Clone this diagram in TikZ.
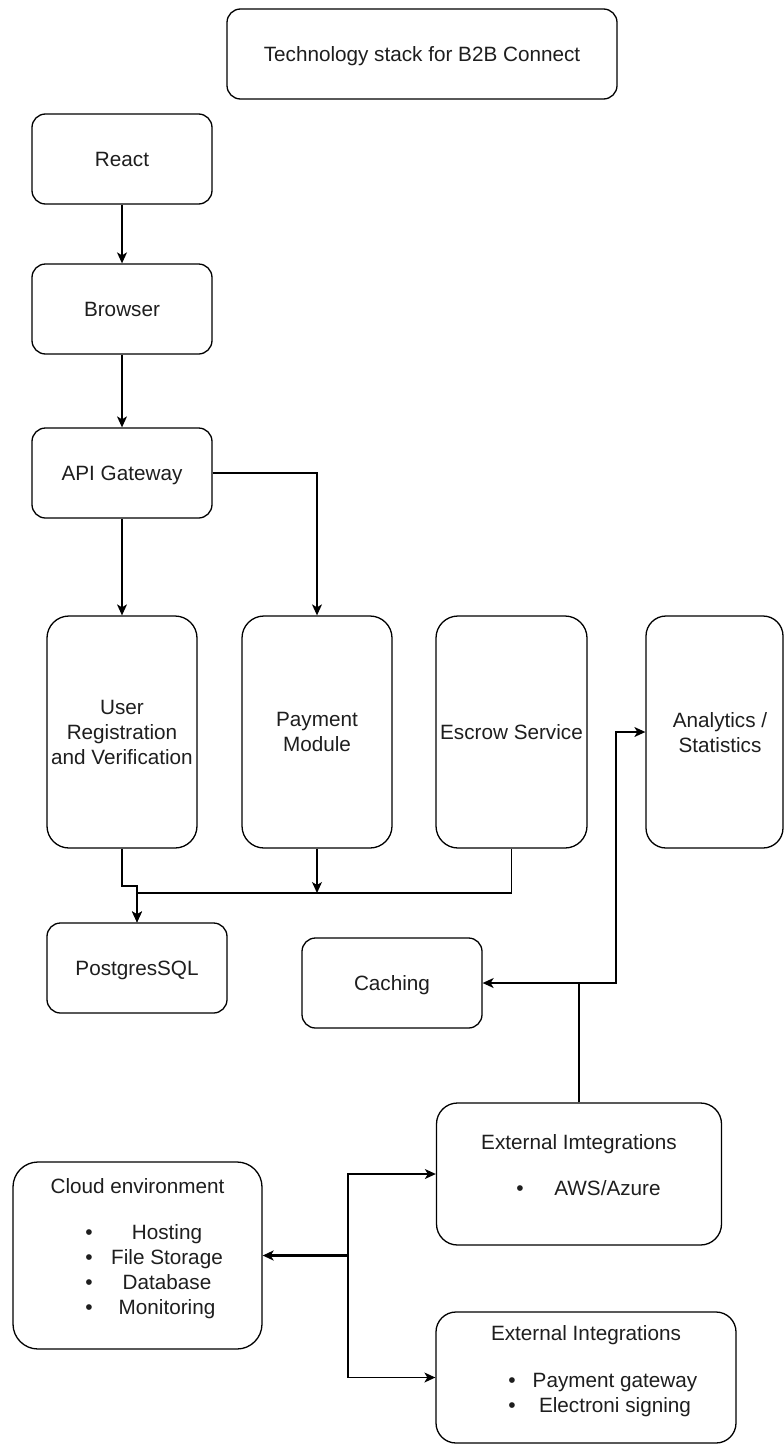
\documentclass[tikz,border=0pt]{standalone}
\usepackage{fontspec}
\setmainfont{Liberation Sans}
\usetikzlibrary{arrows.meta}
\definecolor{ink}{RGB}{30,30,30}
\newcommand\dfont{\fontsize{20.7}{25}\selectfont}
\newcommand\bfnt{\fontsize{21}{21}\selectfont}
\begin{document}
\begin{tikzpicture}[x=1pt,y=-1pt,
  box/.style={draw=black, line width=1.3pt, fill=white, rounded corners=#1, inner sep=0pt, align=center, font=\dfont, text=ink},
  box/.default=13.5pt,
  one/.style={text height=18.6pt, text depth=4.1pt},
  conn/.style={draw=black, line width=1.3pt, -{Stealth[length=11pt,width=10pt,inset=3pt]}},
  txt/.style={inner sep=0pt, font=\dfont, anchor=base, text=ink},
  bul/.style={inner sep=0pt, font=\bfnt, anchor=base, text=ink}]
\useasboundingbox (0,0) rectangle (784,1445);
% boxes
\node[box, one, minimum width=390pt, minimum height=90pt] (title) at (422,54) {Technology stack for B2B Connect};
\node[box, one, minimum width=180pt, minimum height=90pt] (react) at (122,159) {React};
\node[box, one, minimum width=180pt, minimum height=90pt] (browser) at (122,309) {Browser};
\node[box, one, minimum width=180pt, minimum height=90pt] (api) at (122,473) {API Gateway};
\node[box=22pt, minimum width=150pt, minimum height=232pt] (user) at (122,732) {User\\Registration\\and Verification};
\node[box=22pt, minimum width=150pt, minimum height=232pt] (pay) at (317,732) {Payment\\Module};
\node[box=22pt, one, minimum width=151pt, minimum height=232pt] (escrow) at (511.5,732) {\makebox[0pt]{Escrow Service}};
\node[box=20pt, minimum width=137pt, minimum height=232pt] (analytics) at (714.5,732) {};
\node[txt, anchor=center, align=center] (analyticsText) at (720,733) {Analytics /\\Statistics};
\node[box, one, minimum width=180pt, minimum height=90pt] (pg) at (137,968) {PostgresSQL};
\node[box, one, minimum width=180pt, minimum height=90pt] (cach) at (392,983) {Caching};
\node[box=25pt, minimum width=249pt, minimum height=187pt] (cloud) at (137.5,1255.5) {};
\node[box=21pt, minimum width=285pt, minimum height=142pt] (extA) at (579,1174) {};
\node[box=20pt, minimum width=300pt, minimum height=131pt] (extB) at (586,1377.5) {};
% cloud contents
\node[txt] (cloudT) at (137.5,1193) {Cloud environment};
\node[bul] (cb1) at (89,1239) {•};
\node[bul] (cb2) at (89,1264) {•};
\node[bul] (cb3) at (89,1289) {•};
\node[bul] (cb4) at (89,1314) {•};
\node[txt] (ci1) at (167,1239) {Hosting};
\node[txt] (ci2) at (167,1264) {File Storage};
\node[txt] (ci3) at (167,1289) {Database};
\node[txt] (ci4) at (167,1314) {Monitoring};
% external A contents
\node[txt] (extAT) at (579,1149) {External Imtegrations};
\node[bul] (ab1) at (520,1195) {•};
\node[txt] (ai1) at (607.5,1195) {AWS/Azure};
% external B contents
\node[txt] (extBT) at (586,1340) {External Integrations};
\node[bul] (bb1) at (512,1387) {•};
\node[bul] (bb2) at (512,1412) {•};
\node[txt] (bi1) at (615,1387) {Payment gateway};
\node[txt] (bi2) at (615,1412) {Electroni signing};
% connectors
\draw[conn] (react) -- (browser);
\draw[conn] (browser) -- (api);
\draw[conn] (api) -- (user);
\draw[conn] (api.east) -| (pay.north);
\draw[conn] (user.south) -- (122,886) -- (137,886) -- (pg.north);
\draw[conn] (escrow.south) -- (511.5,893) -- (137,893) -- (pg.north);
\coordinate (payJoin) at (317,893);
\draw[conn] (pay.south) -- (payJoin);
\draw[conn] (extA.north) -- (579,983) -- (cach.east);
\draw[conn] (extA.north) -- (579,983) -- (616,983) -- (616,732) -- (analytics.west);
\coordinate (cj) at (348,1255.5);
\draw[conn, line width=2.2pt] (cj) -- (cloud.east);
\draw[conn] (cj) |- (extA.west);
\draw[conn] (cj) |- (extB.west);
\end{tikzpicture}
\end{document}
